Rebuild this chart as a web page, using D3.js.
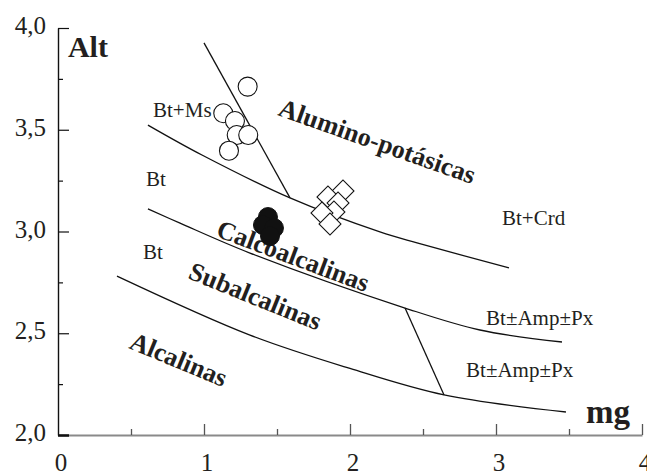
<!DOCTYPE html>
<html>
<head>
<meta charset="utf-8">
<script src="https://cdn.jsdelivr.net/npm/d3@7/dist/d3.min.js"></script>
<style>
  html, body { margin: 0; padding: 0; background: #fff; }
  svg { display: block; }
  text { font-family: "Liberation Serif", "Times New Roman", serif; fill: #231f20; }
</style>
</head>
<body>
<svg id="chart" width="647" height="471"></svg>
<script>
// Alt vs mg discrimination diagram (Debon & Le Fort style fields)

// Axis ticks
const xTicks = [0, 1, 2, 3, 4];
const xTickLabels = ["0", "1", "2", "3", "4"];
const yTicks = [2.0, 2.5, 3.0, 3.5, 4.0];
const yTickLabels = ["2,0", "2,5", "3,0", "3,5", "4,0"];

// Field boundary curves [mg, Alt]
const boundaryUpper = [[0.616, 3.523], [0.986, 3.376], [1.589, 3.165], [2.205, 2.998], [2.459, 2.944], [3.089, 2.821]];
const boundaryMiddle = [[0.616, 3.111], [0.836, 3.041], [1.315, 2.894], [2.377, 2.624], [2.89, 2.516], [3.452, 2.457]];
const boundaryLower = [[0.404, 2.781], [1.315, 2.491], [2.0, 2.327], [2.644, 2.197], [3.479, 2.113]];
const dividerMs = [[1.0, 3.927], [1.589, 3.165]];
const dividerAmp = [[2.377, 2.624], [2.644, 2.197]];

// Samples
const openCircles = [[1.299, 3.712], [1.132, 3.581], [1.212, 3.543], [1.224, 3.474], [1.303, 3.474], [1.171, 3.397]];
const diamonds = [[1.952, 3.199], [1.849, 3.170], [1.918, 3.140], [1.890, 3.096], [1.808, 3.091], [1.863, 3.037]];
const filledCircles = [[1.438, 3.071], [1.404, 3.032], [1.479, 3.017], [1.452, 2.978]];

// Field and mineral labels: [text, mg, Alt, rotation]
const fieldLabels = [
  ["Alumino-potásicas", 1.50, 3.572, 19.5],
  ["Calcoalcalinas", 1.075, 2.978, 20.5],
  ["Subalcalinas", 0.884, 2.771, 22],
  ["Alcalinas", 0.479, 2.428, 22.5]
];
const mineralLabels = [
  ["Bt+Ms", 0.651, 3.563],
  ["Bt", 0.603, 3.224],
  ["Bt", 0.582, 2.865],
  ["Bt+Crd", 3.041, 3.032],
  ["Bt±Amp±Px", 2.932, 2.541],
  ["Bt±Amp±Px", 2.795, 2.285]
];

const svg = d3.select("#chart");
const x = d3.scaleLinear().domain([0, 4]).range([58, 642]);
const y = d3.scaleLinear().domain([2, 4]).range([435, 28]);

// X axis (grey baseline, ticks pointing up)
const xAxis = d3.axisBottom(x)
  .tickValues(d3.range(0, 4.01, 0.5))
  .tickSizeInner(-6).tickSizeOuter(0).tickFormat("");
const gx = svg.append("g").attr("transform", `translate(0,${y(2)})`).call(xAxis);
gx.select(".domain").attr("stroke", "#8a8a8a").attr("stroke-width", 2);
gx.selectAll(".tick line")
  .attr("stroke", "#555").attr("stroke-width", 1.3)
  .attr("y2", d => Number.isInteger(d) ? -11 : -6);
gx.selectAll(".tick").filter(d => d === 0).remove();

svg.append("g").selectAll("text").data(xTicks).join("text")
  .attr("x", (d, i) => x(d) + 3).attr("y", 471)
  .attr("text-anchor", "middle").attr("font-size", 25)
  .text((d, i) => xTickLabels[i]);

// Y axis (black, ticks pointing right)
const yAxis = d3.axisLeft(y)
  .tickValues(d3.range(2, 4.01, 0.25))
  .tickSizeOuter(0).tickFormat("");
const gy = svg.append("g").attr("transform", `translate(${x(0)},0)`).call(yAxis);
gy.select(".domain").attr("stroke", "#111").attr("stroke-width", 1.4);
gy.selectAll(".tick line")
  .attr("stroke", "#111").attr("stroke-width", d => d === 2 ? 2.5 : 1.2)
  .attr("x2", d => (d * 2) % 1 === 0 ? 11 : 5);

svg.append("g").selectAll("text").data(yTicks).join("text")
  .attr("x", 46).attr("y", d => y(d) + 6)
  .attr("text-anchor", "end").attr("font-size", 25)
  .text((d, i) => yTickLabels[i]);

// Axis titles
svg.append("text").attr("x", x(0.068)).attr("y", y(3.857))
  .attr("font-size", 30).attr("font-weight", "bold").text("Alt");
svg.append("text").attr("x", x(3.616)).attr("y", y(2.059))
  .attr("font-size", 33).attr("font-weight", "bold").text("mg");

// Boundaries
const curve = d3.line().x(d => x(d[0])).y(d => y(d[1])).curve(d3.curveCatmullRom.alpha(0.5));
const straight = d3.line().x(d => x(d[0])).y(d => y(d[1]));
const lines = svg.append("g").attr("fill", "none").attr("stroke", "#111").attr("stroke-width", 1.3);
[boundaryUpper, boundaryMiddle, boundaryLower].forEach(b => lines.append("path").attr("d", curve(b)));
[dividerMs, dividerAmp].forEach(b => lines.append("path").attr("d", straight(b)));

// Mineral assemblage labels
svg.append("g").selectAll("text").data(mineralLabels).join("text")
  .attr("x", d => x(d[1])).attr("y", d => y(d[2]))
  .attr("font-size", 21).text(d => d[0]);

// Field names
svg.append("g").selectAll("text").data(fieldLabels).join("text")
  .attr("transform", d => `translate(${x(d[1])},${y(d[2])}) rotate(${d[3]})`)
  .attr("font-size", 26).attr("font-weight", "bold").text(d => d[0]);

// Samples
svg.append("g").selectAll("circle").data(openCircles).join("circle")
  .attr("cx", d => x(d[0])).attr("cy", d => y(d[1])).attr("r", 9.5)
  .attr("fill", "#fff").attr("stroke", "#111").attr("stroke-width", 1.1);

const diamond = d3.symbol().type(d3.symbolDiamond2).size(240);
svg.append("g").selectAll("path").data(diamonds).join("path")
  .attr("transform", d => `translate(${x(d[0])},${y(d[1])}) rotate(45)`)
  .attr("d", d3.symbol().type(d3.symbolSquare).size(240))
  .attr("fill", "#fff").attr("stroke", "#111").attr("stroke-width", 1.1);

svg.append("g").selectAll("circle").data(filledCircles).join("circle")
  .attr("cx", d => x(d[0])).attr("cy", d => y(d[1])).attr("r", 9.5)
  .attr("fill", "#111").attr("stroke", "#111").attr("stroke-width", 1);
</script>
</body>
</html>
